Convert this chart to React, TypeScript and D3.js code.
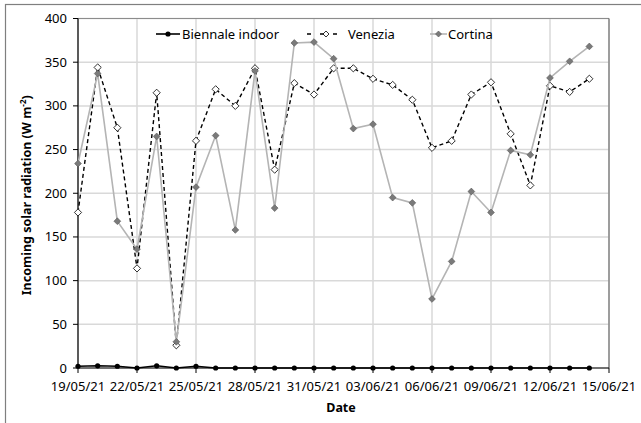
import React from "react";
import * as d3 from "d3";

// daily values, 19/05/21 .. 14/06/21
const dates = [
  "2021-05-19", "2021-05-20", "2021-05-21", "2021-05-22", "2021-05-23", "2021-05-24",
  "2021-05-25", "2021-05-26", "2021-05-27", "2021-05-28", "2021-05-29", "2021-05-30",
  "2021-05-31", "2021-06-01", "2021-06-02", "2021-06-03", "2021-06-04", "2021-06-05",
  "2021-06-06", "2021-06-07", "2021-06-08", "2021-06-09", "2021-06-10", "2021-06-11",
  "2021-06-12", "2021-06-13", "2021-06-14",
];
const biennale = [2, 2.5, 2, 0, 2.5, 0, 2, 0, 0, 0, 0, 0, 0, 0, 0, 0, 0, 0, 0, 0, 0, 0, 0, 0, 0, 0, 0];
const venezia = [
  178, 344, 275, 114, 315, 26, 260, 319, 300, 343, 227, 326, 313, 343, 343, 331, 324, 307,
  252, 260, 313, 327, 268, 209, 323, 316, 331,
];
const cortina = [
  234, 337, 168, 136, 265, 30, 207, 266, 158, 340, 183, 372, 373, 354, 274, 279, 195, 189,
  79, 122, 202, 178, 249, 244, 332, 351, 368,
];
const xTicks = [
  "2021-05-19", "2021-05-22", "2021-05-25", "2021-05-28", "2021-05-31",
  "2021-06-03", "2021-06-06", "2021-06-09", "2021-06-12", "2021-06-15",
];
const yTicks = [0, 50, 100, 150, 200, 250, 300, 350, 400];

const W = 641;
const H = 423;
const margin = { left: 78, right: 32, top: 18.5, bottom: 55 };
const font = "'Noto Sans', sans-serif";

const parse = d3.utcParse("%Y-%m-%d");
const fmt = d3.utcFormat("%d/%m/%y");

const x = d3
  .scaleUtc()
  .domain([parse("2021-05-19"), parse("2021-06-15")])
  .range([margin.left, W - margin.right]);
const y = d3
  .scaleLinear()
  .domain([0, 400])
  .range([H - margin.bottom, margin.top]);

const diamond = (cx, cy, r) =>
  `M${cx},${cy - r}L${cx + r},${cy}L${cx},${cy + r}L${cx - r},${cy}Z`;

const lineOf = (vals) =>
  d3
    .line()
    .x((_, i) => x(parse(dates[i])))
    .y((v) => y(v))(vals);

export default function App() {
  const x0 = margin.left;
  const x1 = W - margin.right;
  const y0 = H - margin.bottom;
  const y1 = margin.top;

  return (
    <svg
      width={W}
      height={H}
      style={{ position: "absolute", left: 0, top: 0, background: "#fff" }}
    >
      {/* outer frame */}
      <rect x={5.5} y={4.5} width={700} height={500} fill="#fff" stroke="#7f7f7f" strokeWidth={1.2} />

      {/* grid */}
      {yTicks.map((t) => (
        <line key={"gy" + t} x1={x0} x2={x1} y1={y(t)} y2={y(t)} stroke="#d9d9d9" strokeWidth={1.5} />
      ))}
      {xTicks.map((t) => (
        <line key={"gx" + t} x1={x(parse(t))} x2={x(parse(t))} y1={y0} y2={y1} stroke="#d9d9d9" strokeWidth={1.5} />
      ))}
      {/* plot border top/right */}
      <line x1={x0} x2={x1} y1={y1} y2={y1} stroke="#8c8c8c" strokeWidth={1} />
      <line x1={x1} x2={x1} y1={y1} y2={y0} stroke="#595959" strokeWidth={1} />

      {/* axes */}
      <line x1={x0} x2={x1} y1={y0} y2={y0} stroke="#000" strokeWidth={1.2} />
      <line x1={x0} x2={x0} y1={y1} y2={y0} stroke="#000" strokeWidth={1.2} />
      {yTicks.map((t) => (
        <g key={"ty" + t}>
          <line x1={x0 - 5} x2={x0} y1={y(t)} y2={y(t)} stroke="#000" />
          <text x={x0 - 11} y={y(t)} dy="0.35em" textAnchor="end" fontFamily={font} fontSize={13} fill="#000">
            {t}
          </text>
        </g>
      ))}
      {xTicks.map((t) => (
        <g key={"tx" + t}>
          <line x1={x(parse(t))} x2={x(parse(t))} y1={y0} y2={y0 + 5} stroke="#000" />
          <text x={x(parse(t))} y={y0 + 23} textAnchor="middle" fontFamily={font} fontSize={13} fill="#000">
            {fmt(parse(t))}
          </text>
        </g>
      ))}

      {/* axis titles */}
      <text x={341} y={411.5} textAnchor="middle" fontFamily={font} fontSize={12.5} fontWeight="bold">
        Date
      </text>
      <text
        transform={`translate(31,${(y0 + y1) / 2 + 2}) rotate(-90)`}
        textAnchor="middle"
        fontFamily={font}
        fontSize={12.5}
        fontWeight="bold"
      >
        Incoming solar radiation (W m<tspan dy="-5" fontSize={8}>-2</tspan>
        <tspan dy="5">)</tspan>
      </text>

      {/* Biennale indoor */}
      <path d={lineOf(biennale)} fill="none" stroke="#000" strokeWidth={1.6} />
      {biennale.map((v, i) => (
        <circle key={"b" + i} cx={x(parse(dates[i]))} cy={y(v)} r={2.6} fill="#000" />
      ))}

      {/* Venezia */}
      <path d={lineOf(venezia)} fill="none" stroke="#000" strokeWidth={1.4} strokeDasharray="4,3" />
      {venezia.map((v, i) => (
        <path key={"v" + i} d={diamond(x(parse(dates[i])), y(v), 3.6)} fill="#fff" stroke="#000" strokeWidth={0.8} />
      ))}

      {/* Cortina */}
      <path d={lineOf(cortina)} fill="none" stroke="#b4b4b4" strokeWidth={1.6} />
      {cortina.map((v, i) => (
        <path key={"c" + i} d={diamond(x(parse(dates[i])), y(v), 3.4)} fill="#7a7a7a" stroke="#555" strokeWidth={0.6} />
      ))}

      {/* legend */}
      <g fontFamily={font} fontSize={13} fill="#000">
        <line x1={156} x2={180} y1={34} y2={34} stroke="#000" strokeWidth={1.6} />
        <circle cx={168} cy={34} r={2.6} fill="#000" />
        <text x={182} y={34} dy="0.35em">Biennale indoor</text>

        <line x1={307} x2={345} y1={34} y2={34} stroke="#000" strokeWidth={1.4} strokeDasharray="4,9" />
        <path d={diamond(326, 34, 3)} fill="#fff" stroke="#000" strokeWidth={0.8} />
        <text x={348} y={34} dy="0.35em">Venezia</text>

        <line x1={430} x2={447} y1={34} y2={34} stroke="#b4b4b4" strokeWidth={1.6} />
        <path d={diamond(438.5, 34, 3)} fill="#7a7a7a" stroke="#555" strokeWidth={0.6} />
        <text x={448} y={34} dy="0.35em">Cortina</text>
      </g>
    </svg>
  );
}
